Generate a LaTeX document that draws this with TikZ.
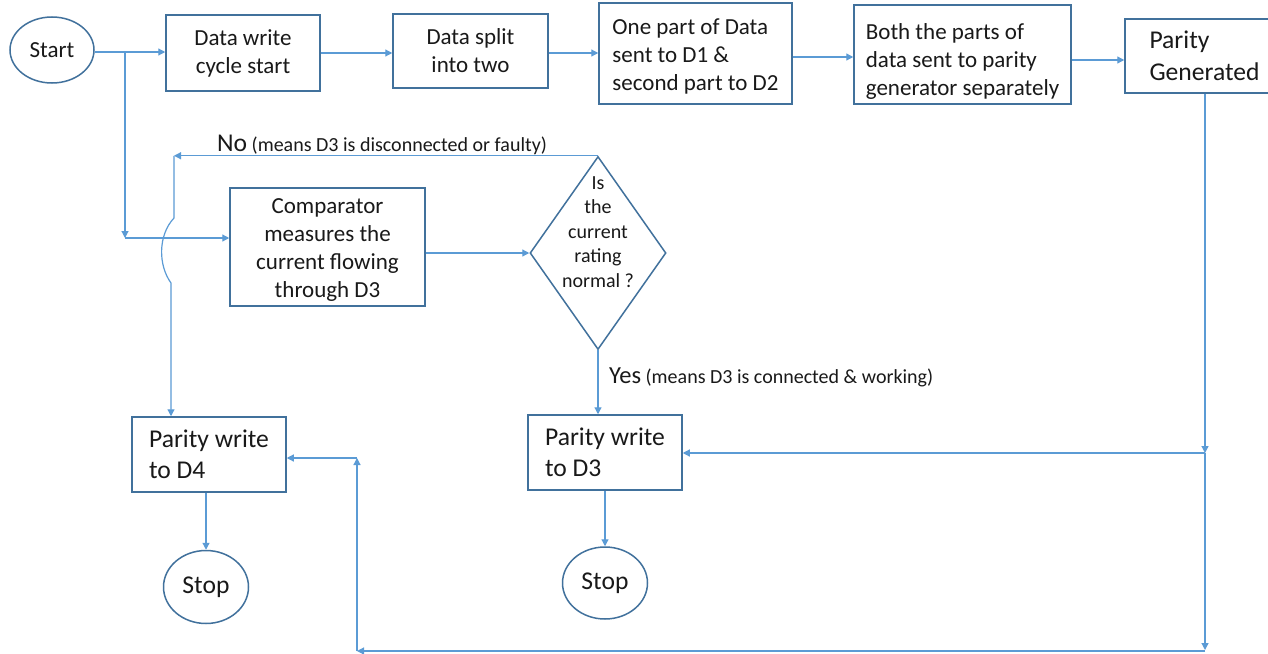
\documentclass[tikz,border=0pt]{standalone}
\usepackage{fontspec}
\setmainfont{Carlito}
\usetikzlibrary{arrows.meta,shapes.geometric}
\definecolor{linec}{RGB}{91,155,213}
\definecolor{boxc}{RGB}{65,113,156}
\definecolor{txt}{RGB}{25,25,25}
% lower a block of lines by #1 without changing its nominal size
\newcommand{\lowblock}[3]{\raisebox{-#1}[\height][\depth]{\begin{tabular}{@{}#2@{}}#3\end{tabular}}}
\begin{document}
\begin{tikzpicture}[x=1pt,y=-1pt,
  box/.style={draw=boxc, line width=1.5pt, rectangle, inner sep=0pt, text=txt, fill=white},
  oval/.style={draw=boxc, line width=1.5pt, ellipse, inner sep=0pt, text=txt},
  conn/.style={draw=linec, line width=1.2pt},
  arr/.style={conn, -{Triangle[length=7pt,width=7pt]}},
  fA/.style={font=\fontsize{23}{28}\selectfont},
  fB/.style={font=\fontsize{25.6}{31.5}\selectfont},
  fC/.style={font=\fontsize{20}{24.5}\selectfont},
]
\useasboundingbox (0,0) rectangle (1268,653);
\fill[white] (0,0) rectangle (1268,653);

% nodes
\node[oval, fA, minimum width=84pt, minimum height=66pt] (start) at (52,50) {Start};
\node[box, fA, align=center, minimum width=154pt, minimum height=76pt] (dw) at (243,53) {Data write\\cycle start};
\node[box, fA, align=center, minimum width=155pt, minimum height=74pt] (ds) at (470.5,51) {Data split\\into two};
\node[box, fA, minimum width=193pt, minimum height=101pt] (op) at (695.5,53.5) {\lowblock{3pt}{l}{One part of Data\\sent to D1 \&\\second part to D2}};
\node[box, fA, minimum width=217pt, minimum height=99pt] (both) at (962.5,54.5) {\lowblock{7pt}{l}{Both the parts of\\data sent to parity\\generator separately}};
\node[box, fB, minimum width=159pt, minimum height=74pt] (pg) at (1204.5,56) {\lowblock{2pt}{l}{Parity\\Generated}};
\node[box, fA, minimum width=195pt, minimum height=118pt] (comp) at (327.5,247) {\lowblock{3pt}{c}{Comparator\\measures the\\current flowing\\through D3}};
\node[draw=boxc, line width=1.5pt, diamond, minimum width=136pt, minimum height=193pt, inner sep=0pt] (dia) at (598,253) {};
\node[fC, text=txt, align=center, inner sep=0pt] (diat) at (598,232) {Is\\the\\current\\rating\\normal ?};
\node[box, fB, align=left, minimum width=154pt, minimum height=75pt] (d4) at (209,454.5) {Parity write\\to D4};
\node[box, fB, align=left, minimum width=154pt, minimum height=75pt] (d3) at (605,452.5) {Parity write\\to D3};
\node[oval, fB, minimum width=85pt, minimum height=73pt] (stop1) at (206,587) {Stop};
\node[oval, fB, minimum width=85pt, minimum height=72pt] (stop2) at (605,583) {Stop};

% labels
\node[anchor=base west, text=txt, inner sep=0pt] (nolab) at (217,151)
  {{\fontsize{25.6}{30}\selectfont No}{\fontsize{20}{24}\selectfont\ (means D3 is disconnected or faulty)}};
\node[anchor=base west, text=txt, inner sep=0pt] (yeslab) at (609,383)
  {{\fontsize{24.5}{30}\selectfont Yes}{\fontsize{20}{24}\selectfont\ (means D3 is connected \& working)}};

% coordinates
\coordinate (br) at (125,52);
\coordinate (brd) at (125,238);
\coordinate (y57) at (0,57);
\coordinate (y60) at (0,60);
\coordinate (rA) at (1205,453);
\coordinate (rB) at (1205,650);
\coordinate (bl) at (357,651);
\coordinate (up) at (357,458);
\coordinate (nL) at (174,155);
\coordinate (hop) at (171,283);

% top row
\draw[arr] (start.east |- br) -- (dw.west |- br);
\draw[arr] (br) -- (brd);
\draw[arr] (brd) -- (comp.west |- brd);
\draw[arr] (dw.east) -- (ds.west |- dw.east);
\draw[arr] (ds.east |- dw.east) -- (op.west |- dw.east);
\draw[arr] (op.east |- y57) -- (both.west |- y57);
\draw[arr] (both.east |- y60) -- (pg.west |- y60);

% right side
\draw[arr] (pg.south -| rA) -- (rA);
\draw[arr] (rA) -- (rB);
\draw[arr] (rA) -- (d3.east |- rA);
\draw[arr] (rB |- bl) -- (bl);
\draw[arr] (bl) -- (up);
\draw[arr] (up) -- (d4.east |- up);

% comparator and decision
\draw[arr] (comp.east |- dia.west) -- (dia.west);
\draw[arr] (dia.north) -- (nL |- dia.north);
\draw[arr] (nL |- dia.north) -- (174,218) .. controls (158,235) and (158,265) .. (hop) -- (d4.north -| hop);
\draw[arr] (dia.south) -- (dia.south |- d3.north);
\draw[arr] (d3.south) -- (stop2.north);
\draw[arr] (stop1.north |- d4.south) -- (stop1.north);
\end{tikzpicture}
\end{document}
